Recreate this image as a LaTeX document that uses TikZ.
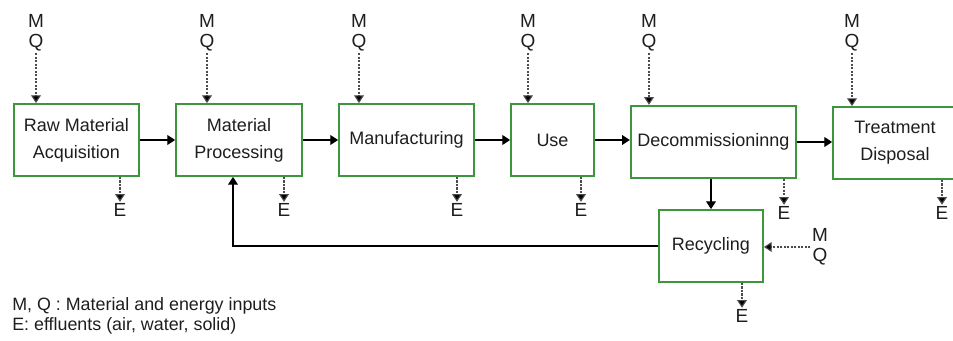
\documentclass[tikz,border=0pt]{standalone}
\usepackage{fontspec}
\setmainfont{Liberation Sans}
\usetikzlibrary{positioning,arrows.meta}
\definecolor{boxgreen}{RGB}{60,150,60}
\definecolor{inkgray}{RGB}{30,30,30}

\begin{document}
\begin{tikzpicture}[
  x=0.025cm, y=-0.025cm,
  stage/.style={rectangle,draw=boxgreen,line width=1.3pt,fill=white,text=inkgray,align=center,
                font=\fontsize{12.8}{19}\selectfont,minimum height=1.8cm,inner sep=2pt},
  flow/.style={line width=0.9pt,-{Triangle[length=5.5pt,width=7pt]}},
  aux/.style={line width=0.8pt,dash pattern=on 1.5pt off 1pt,draw=black!70,
              -{Triangle[length=5.5pt,width=7pt,fill=black]}},
  inlab/.style={align=center,text=inkgray,inner sep=1pt,font=\fontsize{13.5}{14.2}\selectfont},
  outlab/.style={text=inkgray,inner sep=1pt,font=\fontsize{13.5}{14}\selectfont},
  note/.style={anchor=base west,text=inkgray,inner sep=0pt,font=\fontsize{12.7}{14}\selectfont}
]
\useasboundingbox (0,0) rectangle (953,341);

% life cycle stages
\node[stage,minimum width=3.125cm] (raw) at (76.5,140) {Raw Material\\Acquisition};
\node[stage,minimum width=3.15cm] (proc) at (239,140) {Material\\Processing};
\node[stage,minimum width=3.375cm] (manu) at (406.5,140) {Manufacturing};
\node[stage,minimum width=2.075cm] (use) at (552.5,140) {Use};
\node[stage,minimum width=4.125cm,line width=1.7pt] (decom) at (713.5,142) {Decommissioninng};
\node[stage,minimum width=3.1cm] (treat) at (895,143) {Treatment\\Disposal};
\node[stage,minimum width=2.6cm] (recyc) at (711,246) {Recycling};

% inputs
\node[inlab] (mq1) at (36,33) {M\\Q};
\node[inlab] (mq2) at (207,33) {M\\Q};
\node[inlab] (mq3) at (359,33) {M\\Q};
\node[inlab] (mq4) at (528,33) {M\\Q};
\node[inlab] (mq5) at (649,33) {M\\Q};
\node[inlab] (mq6) at (852,33) {M\\Q};
\node[inlab] (mq7) at (820,247) {M\\Q};

% effluents
\node[outlab] (e1) at (120,210) {E};
\node[outlab] (e2) at (284,210) {E};
\node[outlab] (e3) at (457,210) {E};
\node[outlab] (e4) at (581,210) {E};
\node[outlab] (e5) at (784,213) {E};
\node[outlab] (e6) at (942,213) {E};
\node[outlab] (e7) at (742,316) {E};

% main flow
\draw[flow] (raw.east) -- (raw.east -| proc.west);
\draw[flow] (proc.east) -- (proc.east -| manu.west);
\draw[flow] (manu.east) -- (manu.east -| use.west);
\draw[flow] (use.east) -- (use.east -| decom.west);
\draw[flow] (decom.east) -- (decom.east -| treat.west);
\draw[flow] (decom.south -| recyc.north) -- (recyc.north);
\draw[flow] (recyc.west) -| ([xshift=-0.15cm]proc.south);

% inputs and effluents
\draw[aux] (mq1.south) -- (mq1.south |- raw.north);
\draw[aux] (mq2.south) -- (mq2.south |- proc.north);
\draw[aux] (mq3.south) -- (mq3.south |- manu.north);
\draw[aux] (mq4.south) -- (mq4.south |- use.north);
\draw[aux] (mq5.south) -- (mq5.south |- decom.north);
\draw[aux] (mq6.south) -- (mq6.south |- treat.north);
\draw[aux] (mq7.west) -- (mq7.west -| recyc.east);
\draw[aux] (raw.south -| e1.north) -- (e1.north);
\draw[aux] (proc.south -| e2.north) -- (e2.north);
\draw[aux] (manu.south -| e3.north) -- (e3.north);
\draw[aux] (use.south -| e4.north) -- (e4.north);
\draw[aux] (decom.south -| e5.north) -- (e5.north);
\draw[aux] (treat.south -| e6.north) -- (e6.north);
\draw[aux] (recyc.south -| e7.north) -- (e7.north);

% legend
\node[note] (legmq) at (12,310) {M, Q : Material and energy inputs};
\node[note] (lege) at (12,330) {E: effluents (air, water, solid)};
\end{tikzpicture}
\end{document}
